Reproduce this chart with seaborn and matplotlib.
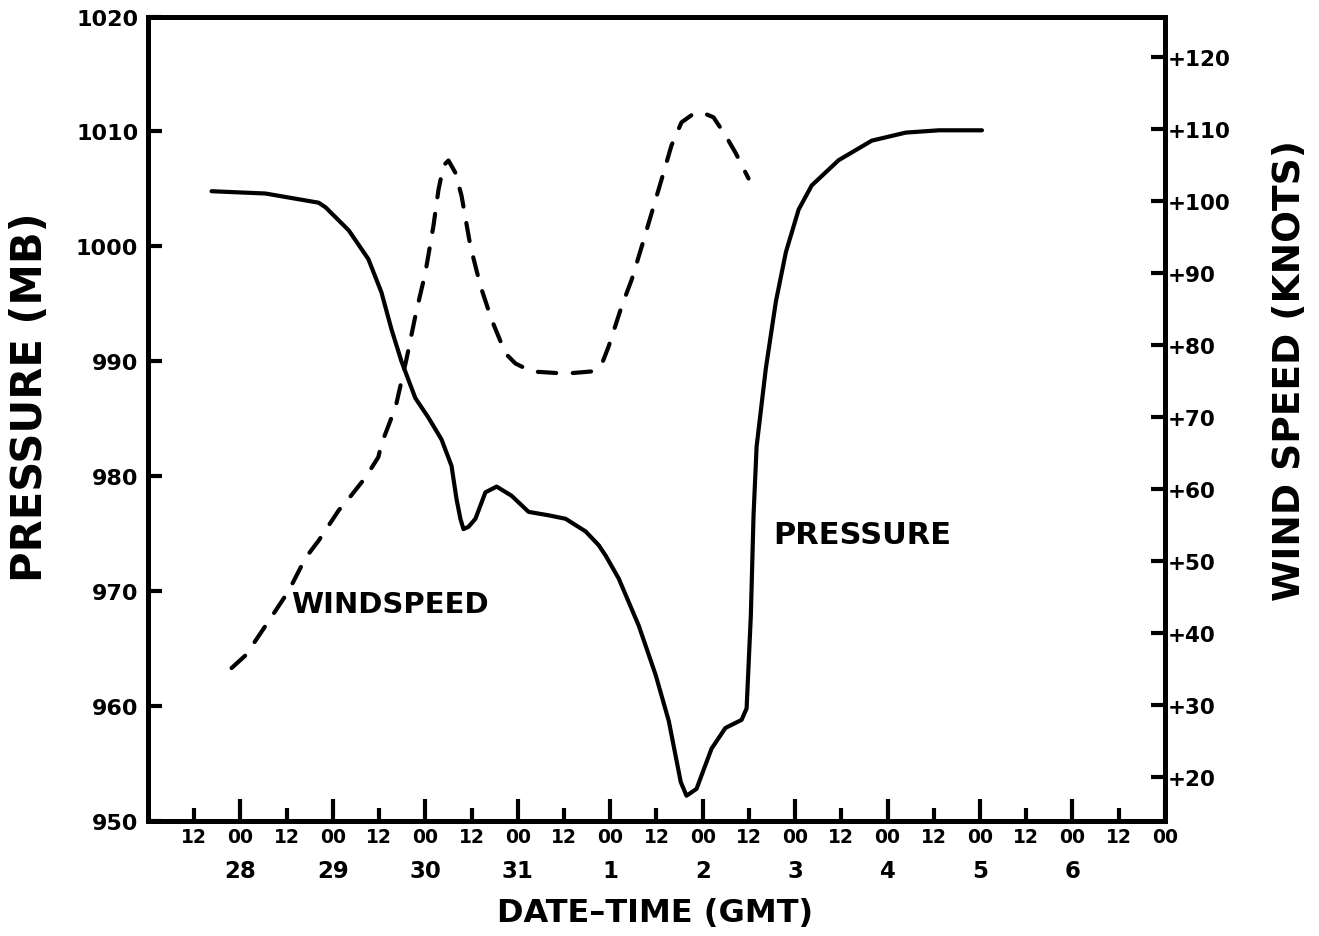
import matplotlib
matplotlib.use("Agg")
import matplotlib.pyplot as plt
import matplotlib.transforms as mtransforms
import seaborn as sns

# ---------------- data ----------------
# time axis: hours since 00 GMT on the 27th
pressure_hours = [16.5, 30.5, 44.3, 46.1, 52.1, 57.2, 60.6, 63.2, 65.8, 69.4,
                  72.8, 76.2, 78.8, 80.1, 81.1, 81.9, 83.2, 85.0, 87.6, 90.5,
                  94.4, 98.8, 104.0, 108.4, 113.6, 117.0, 118.8, 122.2, 127.4, 131.8,
                  135.2, 138.3, 139.8, 142.4, 146.3, 149.9, 154.1, 155.4, 156.5, 157.2,
                  158.0, 160.4, 163.0, 165.6, 168.9, 172.3, 179.3, 187.9, 196.7, 205.3,
                  216.5]
pressure_mb = [1004.8, 1004.6, 1003.8, 1003.4, 1001.4, 998.9, 996.0, 992.8, 990.0, 986.8,
               985.1, 983.2, 980.9, 978.0, 976.3, 975.4, 975.6, 976.3, 978.6, 979.1,
               978.3, 976.9, 976.6, 976.3, 975.2, 974.0, 973.1, 971.1, 967.0, 962.7,
               958.7, 953.4, 952.2, 952.8, 956.3, 958.1, 958.8, 959.8, 967.9, 976.6,
               982.6, 989.4, 995.2, 999.5, 1003.2, 1005.3, 1007.5, 1009.2, 1009.9, 1010.1,
               1010.1]

wind_hours = [21.7, 25.4, 31.3, 36.5, 40.9, 44.3, 49.5, 52.8, 56.5, 59.8,
              60.6, 64.3, 67.1, 69.6, 72.0, 74.1, 75.4, 76.7, 78.0, 79.8,
              81.4, 83.7, 86.3, 89.2, 92.8, 95.4, 99.6, 108.4, 115.2, 117.8,
              119.6, 123.0, 125.6, 128.2, 130.8, 133.4, 135.9, 138.5, 141.1, 143.7,
              146.8, 149.9, 152.5, 155.9]
wind_knots = [35.1, 36.9, 41.6, 45.8, 50.4, 52.8, 57.0, 59.1, 61.6, 64.4,
              66.2, 71.4, 78.0, 84.5, 90.0, 96.5, 101.5, 104.9, 105.6, 103.9,
              100.7, 93.7, 88.2, 83.5, 78.8, 77.4, 76.3, 76.0, 76.3, 77.3,
              79.8, 85.4, 89.1, 93.7, 98.4, 103.1, 107.7, 110.9, 111.9, 112.3,
              111.6, 109.1, 106.7, 103.1]

hour00_ticks = [24, 48, 72, 96, 120, 144, 168, 192, 216, 240, 264]
hour12_ticks = [12, 36, 60, 84, 108, 132, 156, 180, 204, 228, 252]
day_ticks = [24, 48, 72, 96, 120, 144, 168, 192, 216, 240]
day_labels = ["28", "29", "30", "31", "1", "2", "3", "4", "5", "6"]

pressure_ticks = [950, 960, 970, 980, 990, 1000, 1010, 1020]
wind_ticks = [20, 30, 40, 50, 60, 70, 80, 90, 100, 110, 120]
wind_tick_labels = ["+" + str(v) for v in wind_ticks]

# ---------------- style ----------------
sns.set_style("white")
plt.rcParams["font.family"] = ["DejaVu Sans"]
plt.rcParams["font.weight"] = "bold"
for key in ("text.color", "axes.labelcolor", "xtick.color", "ytick.color",
            "axes.edgecolor"):
    plt.rcParams[key] = "black"

fig = plt.figure(figsize=(13.19, 9.37), dpi=100)
ax = fig.add_axes([0.1122, 0.1227, 0.7710, 0.8586])
ax2 = ax.twinx()

sns.lineplot(x=pressure_hours, y=pressure_mb, ax=ax, color="black",
             linewidth=3, estimator=None, sort=False)
sns.lineplot(x=wind_hours, y=wind_knots, ax=ax2, color="black",
             linewidth=3, estimator=None, sort=False)
wl = ax2.lines[-1]
wl.set_dashes([4.4, 4.0])
wl.set_dash_capstyle("round")
pl = ax.lines[-1]
pl.set_solid_capstyle("round")
pl.set_solid_joinstyle("round")

ax.set_xlim(0, 264)
ax.set_ylim(950, 1020)
ax2.set_ylim(13.85, 125.6)

# x ticks
ax.set_xticks(hour00_ticks, labels=["00"] * len(hour00_ticks))
ax.set_xticks(hour12_ticks, labels=["12"] * len(hour12_ticks), minor=True)
ax.tick_params(axis="x", which="major", direction="in", length=16, width=3,
               pad=4, labelsize=13.5, bottom=True, top=False, colors="black")
ax.tick_params(axis="x", which="minor", direction="in", length=9.5, width=3,
               pad=4, labelsize=13.5, bottom=True, top=False, colors="black")

trans = mtransforms.blended_transform_factory(ax.transData, ax.transAxes)
for d, lab in zip(day_ticks, day_labels):
    ax.text(d, -0.062, lab, transform=trans, ha="center", va="center",
            fontsize=16.5, fontweight="bold", color="black", clip_on=False)

# y ticks
ax.set_yticks(pressure_ticks)
ax.tick_params(axis="y", which="major", direction="in", length=10, width=3,
               pad=7, labelsize=16, left=True, right=False, colors="black")
ax2.set_yticks(wind_ticks, labels=wind_tick_labels)
ax2.tick_params(axis="y", which="major", direction="in", length=10, width=3,
                pad=2, labelsize=15.5, right=True, left=False, colors="black")

for a in (ax, ax2):
    for s in a.spines.values():
        s.set_visible(True)
        s.set_color("black")
        s.set_linewidth(3.5)
    a.grid(False)
    a.set_xlabel("")
    a.set_ylabel("")

# labels
fig.text(0.0227, 0.576, "PRESSURE (MB)", rotation=90, ha="center", va="center",
         fontsize=30, fontweight="bold", color="black")
fig.text(0.978, 0.605, "WIND SPEED (KNOTS)", rotation=90, ha="center", va="center",
         fontsize=27, fontweight="bold", color="black")
fig.text(0.4966, 0.0256, "DATE\u2013TIME (GMT)", ha="center", va="center",
         fontsize=23, fontweight="bold", color="black")

ax.text(185.3, 974.9, "PRESSURE", ha="center", va="center", fontsize=22,
        fontweight="bold", color="black")
ax.text(62.7, 968.9, "WINDSPEED", ha="center", va="center", fontsize=21,
        fontweight="bold", color="black")

fig.savefig("out.png", dpi=100)
